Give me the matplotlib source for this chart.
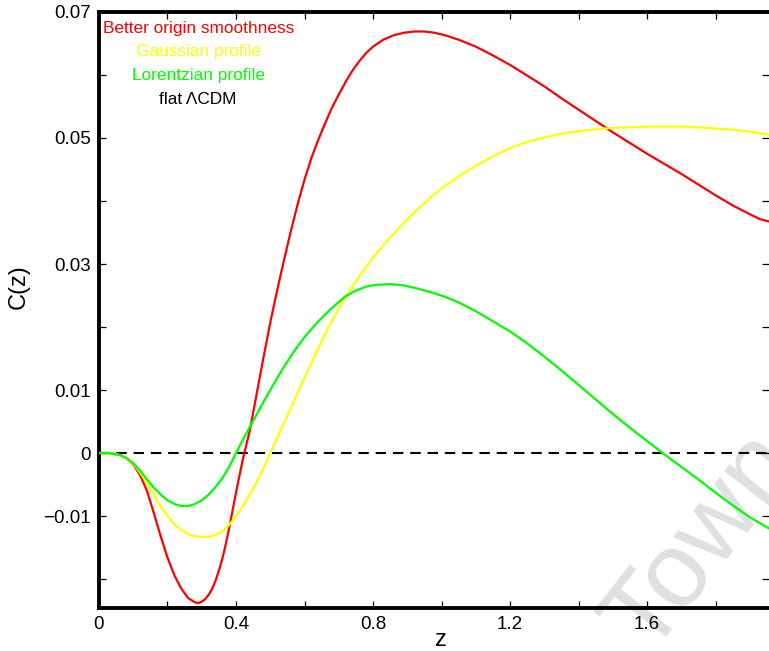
import matplotlib
matplotlib.use("Agg")
import matplotlib.pyplot as plt

plt.rcParams['font.family'] = ['Liberation Sans', 'DejaVu Sans']

# C(z) curves for the three void profiles
z_smooth = [0, 0.03, 0.06, 0.08, 0.10, 0.12, 0.14, 0.16, 0.18, 0.20, 0.22, 0.24,
            0.26, 0.28, 0.29, 0.30, 0.31, 0.32, 0.33, 0.34, 0.35, 0.36, 0.37, 0.38,
            0.39, 0.40, 0.41, 0.42, 0.43, 0.44, 0.46, 0.48, 0.50, 0.52, 0.54, 0.56,
            0.58, 0.60, 0.62, 0.64, 0.66, 0.68, 0.70, 0.72, 0.74, 0.76, 0.78, 0.80,
            0.83, 0.86, 0.89, 0.92, 0.95, 0.98, 1.01, 1.05, 1.10, 1.15, 1.20, 1.25,
            1.30, 1.35, 1.40, 1.45, 1.50, 1.55, 1.60, 1.65, 1.70, 1.75, 1.80, 1.85,
            1.90, 1.93, 1.96]
c_smooth = [0, 0.0, -0.0003, -0.0008, -0.0018, -0.0035, -0.0060, -0.0095, -0.0132,
            -0.0166, -0.0194, -0.0215, -0.0230, -0.0237, -0.0238, -0.0236, -0.0232,
            -0.0225, -0.0216, -0.0203, -0.0187, -0.0168, -0.0145, -0.0119, -0.0091,
            -0.0063, -0.0036, -0.0010, 0.0013, 0.0035, 0.0093, 0.0151, 0.0207,
            0.0258, 0.0306, 0.0352, 0.0395, 0.0434, 0.0468, 0.0497, 0.0523, 0.0548,
            0.0569, 0.0589, 0.0607, 0.0622, 0.0635, 0.0645, 0.0656, 0.0663, 0.0667,
            0.0669, 0.0669, 0.0667, 0.0663, 0.0656, 0.0645, 0.0631, 0.0616, 0.0599,
            0.0582, 0.0563, 0.0545, 0.0527, 0.0509, 0.0492, 0.0475, 0.0459, 0.0443,
            0.0426, 0.0409, 0.0393, 0.0379, 0.0371, 0.0367]

z_gauss = [0, 0.03, 0.06, 0.08, 0.10, 0.12, 0.14, 0.16, 0.18, 0.20, 0.22, 0.24,
           0.26, 0.28, 0.30, 0.32, 0.34, 0.36, 0.38, 0.40, 0.42, 0.44, 0.46, 0.48,
           0.50, 0.52, 0.54, 0.56, 0.58, 0.60, 0.63, 0.66, 0.69, 0.72, 0.75, 0.78,
           0.81, 0.84, 0.87, 0.90, 0.93, 0.96, 1.00, 1.05, 1.10, 1.15, 1.20, 1.25,
           1.30, 1.35, 1.40, 1.45, 1.50, 1.55, 1.60, 1.65, 1.70, 1.75, 1.80, 1.85,
           1.90, 1.96]
c_gauss = [0, 0.0, -0.0003, -0.0008, -0.0017, -0.0031, -0.0048, -0.0067, -0.0085,
           -0.0100, -0.0113, -0.0122, -0.0129, -0.0132, -0.0133, -0.0133, -0.0130,
           -0.0124, -0.0114, -0.0100, -0.0084, -0.0066, -0.0046, -0.0024, 0.0,
           0.0024, 0.0048, 0.0072, 0.0096, 0.0120, 0.0155, 0.0189, 0.0220, 0.0248,
           0.0273, 0.0296, 0.0317, 0.0336, 0.0354, 0.0371, 0.0387, 0.0402, 0.0420,
           0.0439, 0.0456, 0.0471, 0.0484, 0.0494, 0.0501, 0.0507, 0.0511, 0.0514,
           0.0516, 0.0517, 0.0518, 0.0518, 0.0518, 0.0517, 0.0515, 0.0513, 0.0510,
           0.0505]

z_lorentz = [0, 0.03, 0.06, 0.08, 0.10, 0.12, 0.14, 0.16, 0.18, 0.20, 0.22, 0.24,
             0.26, 0.28, 0.30, 0.32, 0.34, 0.36, 0.38, 0.40, 0.42, 0.44, 0.46, 0.48,
             0.50, 0.52, 0.54, 0.57, 0.60, 0.63, 0.66, 0.69, 0.72, 0.75, 0.78, 0.81,
             0.85, 0.89, 0.93, 0.97, 1.01, 1.05, 1.10, 1.15, 1.20, 1.25, 1.30, 1.35,
             1.40, 1.45, 1.50, 1.55, 1.60, 1.65, 1.70, 1.75, 1.80, 1.85, 1.90, 1.96]
c_lorentz = [0, 0.0, -0.0003, -0.0008, -0.0016, -0.0028, -0.0042, -0.0055, -0.0066,
             -0.0075, -0.0081, -0.0084, -0.0084, -0.0081, -0.0075, -0.0066, -0.0054,
             -0.0040, -0.0022, 0.0, 0.0021, 0.0041, 0.0061, 0.0081, 0.0100, 0.0119,
             0.0137, 0.0162, 0.0184, 0.0203, 0.0220, 0.0235, 0.0249, 0.0258, 0.0264,
             0.0267, 0.0268, 0.0266, 0.0261, 0.0255, 0.0248, 0.0239, 0.0225, 0.0209,
             0.0193, 0.0174, 0.0153, 0.0131, 0.0108, 0.0085, 0.0062, 0.0040, 0.0019,
             -0.0002, -0.0022, -0.0042, -0.0063, -0.0083, -0.0102, -0.0121]

names = ['Better origin smoothness', 'Gaussian profile', 'Lorentzian profile',
         'flat \u039bCDM']
colors = ['#ff0000', '#ffff00', '#00ff00', 'black']

xticks = [0, 0.2, 0.4, 0.6, 0.8, 1.0, 1.2, 1.4, 1.6, 1.8]
xticklabels = ['0', '', '0.4', '', '0.8', '', '1.2', '', '1.6', '']
yticks = [-0.02, -0.01, 0, 0.01, 0.02, 0.03, 0.04, 0.05, 0.06, 0.07]
yticklabels = ['', '\u22120.01', '0', '0.01', '', '0.03', '', '0.05', '', '0.07']

fig = plt.figure(figsize=(7.69, 6.51), dpi=100)
ax = fig.add_axes([0.1287, 0.066, 0.8713, 0.9156])

ax.plot(z_smooth, c_smooth, color=colors[0], lw=1.6, zorder=3)
ax.plot(z_gauss, c_gauss, color=colors[1], lw=1.6, zorder=3)
ax.plot(z_lorentz, c_lorentz, color=colors[2], lw=1.6, zorder=3)
ax.plot([0, 1.96], [0, 0], color=colors[3], lw=1.5, dashes=(5, 3.3), zorder=2)

ax.set_xlim(0, 1.956)
ax.set_ylim(-0.0246, 0.07)

ax.set_xticks(xticks)
ax.set_xticklabels(xticklabels)
ax.set_yticks(yticks)
ax.set_yticklabels(yticklabels)
ax.tick_params(direction='in', length=5, width=0.9, labelsize=13.5, pad=6,
               top=True, right=True)

for side in ['left', 'bottom', 'top']:
    ax.spines[side].set_linewidth(2.8)
ax.spines['right'].set_visible(False)

ax.set_xlabel('z', fontsize=17)
ax.xaxis.set_label_coords(0.51, -0.035)
ax.set_ylabel('C(z)', fontsize=17)
ax.yaxis.set_label_coords(-0.104, 0.54)

# legend entries as centred coloured text
ys = [0.973, 0.933, 0.894, 0.854]
for name, col, yy in zip(names, colors, ys):
    ax.text(0.148, yy, name, color=col, fontsize=12.4, ha='center', va='center',
            transform=ax.transAxes)

# faint watermark
ax.text(0.844, -0.008, 'Town', color='#e0e0e0', fontsize=76, rotation=52,
        rotation_mode='anchor', ha='left', va='baseline',
        transform=fig.transFigure, zorder=0.5, clip_on=False)

fig.savefig('out.png', dpi=100)
